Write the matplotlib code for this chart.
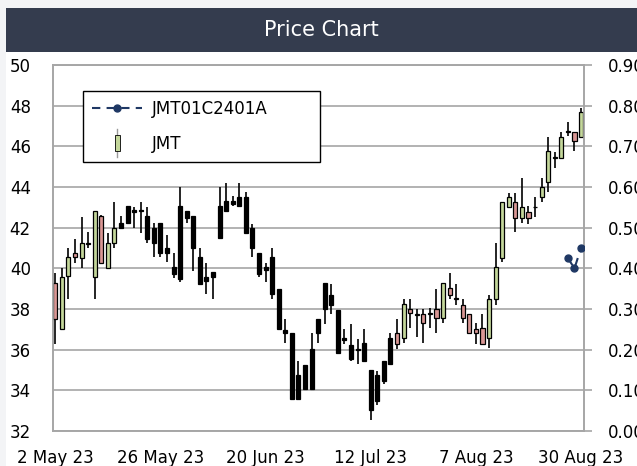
import numpy as np
import matplotlib
matplotlib.use("Agg")
import matplotlib.pyplot as plt
from matplotlib.patches import Rectangle
from matplotlib.lines import Line2D
from matplotlib.legend_handler import HandlerBase

# JMT daily OHLC
opens = [39.3, 37.0, 39.6, 40.75, 40.5, 41.2, 39.55, 42.55, 40.0, 41.25,
         42.0, 42.25, 42.85, 42.85, 42.55, 42.0, 42.25, 41.0, 40.05, 39.5,
         42.8, 42.55, 40.55, 39.55, 39.8, 41.5, 42.8, 43.3, 43.05, 43.5,
         42.0, 40.75, 40.05, 40.55, 39.0, 36.95, 36.8, 33.55, 35.25, 34.05,
         37.5, 38.0, 38.7, 37.95, 36.55, 36.25, 36.05, 35.45, 35.0, 33.5,
         34.45, 35.3, 36.8, 36.55, 38.0, 37.75, 37.75, 37.75, 38.0, 37.55,
         39.05, 38.5, 38.2, 37.75, 37.0, 37.05, 36.55, 38.5, 40.5, 43.0,
         43.25, 42.5, 42.75, 43.0, 43.5, 44.25, 45.45, 45.45, 46.7, 46.7,
         46.45]
highs = [39.75, 40.0, 41.0, 41.45, 42.5, 41.8, 42.8, 42.6, 41.75, 43.25,
         42.55, 43.05, 43.0, 43.25, 43.0, 42.25, 42.25, 41.65, 40.75, 44.0,
         42.8, 42.55, 41.0, 40.25, 39.8, 44.0, 44.2, 43.55, 44.2, 43.75,
         42.2, 40.75, 40.25, 41.0, 39.0, 37.5, 36.8, 35.45, 35.25, 36.8,
         37.5, 39.3, 39.25, 37.95, 37.0, 37.25, 36.5, 37.0, 35.0, 34.95,
         35.45, 36.8, 37.5, 38.5, 38.5, 38.0, 38.0, 38.05, 39.0, 39.3,
         39.75, 39.25, 38.5, 37.75, 37.3, 37.75, 38.7, 41.25, 43.25, 43.7,
         43.7, 44.45, 43.05, 43.5, 44.45, 46.45, 45.7, 46.7, 47.2, 46.7,
         47.9]
lows = [36.3, 37.0, 38.5, 40.25, 40.0, 41.0, 38.5, 40.25, 40.0, 41.0,
        41.95, 42.2, 42.0, 41.75, 41.25, 40.55, 40.55, 40.3, 39.5, 39.35,
        42.25, 39.85, 39.25, 38.75, 38.5, 41.5, 42.8, 43.05, 43.05, 41.75,
        40.55, 39.55, 39.35, 38.5, 37.0, 36.35, 33.55, 33.55, 34.05, 34.05,
        36.35, 37.25, 37.75, 35.85, 36.3, 35.45, 35.3, 35.45, 32.55, 33.3,
        34.3, 35.3, 36.05, 36.35, 37.05, 36.6, 36.35, 37.05, 36.8, 37.3,
        38.5, 38.2, 37.3, 36.8, 36.3, 36.3, 36.1, 38.2, 40.3, 43.0,
        41.8, 42.25, 42.2, 42.5, 43.25, 43.75, 44.95, 45.45, 46.5, 45.75,
        46.45]
closes = [37.5, 39.55, 40.55, 40.55, 41.25, 41.2, 42.8, 40.25, 41.25, 42.0,
          42.25, 43.05, 42.75, 42.8, 41.45, 41.25, 40.75, 40.75, 39.7, 43.05,
          42.5, 41.0, 39.25, 39.4, 39.55, 43.05, 43.3, 43.15, 43.5, 41.75,
          41.0, 39.7, 39.9, 38.75, 37.0, 36.8, 33.55, 34.75, 34.05, 36.05,
          36.8, 39.3, 38.2, 35.85, 36.5, 35.55, 36.0, 36.35, 33.05, 34.75,
          35.45, 36.55, 36.3, 38.25, 37.8, 37.7, 37.3, 37.75, 37.55, 39.3,
          38.7, 38.5, 37.55, 36.8, 36.8, 36.3, 38.5, 40.05, 43.25, 43.5,
          42.5, 43.0, 42.5, 43.0, 44.0, 45.75, 45.45, 46.45, 46.7, 46.25,
          47.7]

# warrant JMT01C2401A (right axis), only the last three sessions
warrant = [np.nan] * 78 + [0.425, 0.40, 0.45]

tick_labels = ["2 May 23", "26 May 23", "20 Jun 23", "12 Jul 23", "7 Aug 23", "30 Aug 23"]

up_color = "#c4d79b"
down_color = "#d99694"
navy = "#1f3864"
grid_color = "#a6a6a6"
black_from, black_to = 10, 51   # section drawn with solid black bodies

plt.rcParams["font.family"] = ["DejaVu Sans"]

fig = plt.figure(figsize=(6.37, 4.66), dpi=100)
fig.patch.set_facecolor("#f3f4f6")
fig.add_artist(Rectangle((6 / 637, 0), 1, 414 / 466, transform=fig.transFigure,
                         facecolor="white", edgecolor="none", zorder=0))
fig.add_artist(Rectangle((6 / 637, 414 / 466), 1, 44 / 466, transform=fig.transFigure,
                         facecolor="#343c4e", edgecolor="none", zorder=0))
fig.text(0.5047, 0.9356, "Price Chart", color="white", fontsize=15,
         ha="center", va="center")

ax = fig.add_axes([53 / 637, 35 / 466, 531 / 637, 366 / 466])
ax.set_facecolor("white")

x = np.arange(len(opens))
o = np.array(opens)
c = np.array(closes)
bottoms = np.minimum(o, c)
heights = np.maximum(np.abs(c - o), 0.03)
colors = []
for i in x:
    if black_from <= i <= black_to:
        colors.append("black")
    elif c[i] < o[i]:
        colors.append(down_color)
    else:
        colors.append(up_color)

ax.vlines(x, lows, highs, color="black", linewidth=1.2, zorder=2)
ax.bar(x, heights, bottom=bottoms, width=0.62, color=colors,
       edgecolor="black", linewidth=0.9, zorder=3)

ax.set_xlim(-0.35, 80.45)
ax.set_ylim(32, 50)
ax.set_yticks(np.arange(32, 51, 2))
ax.yaxis.grid(True, color=grid_color, linewidth=1.2)
ax.set_axisbelow(True)
ax.set_xticks(np.arange(0, 81, 16))
ax.set_xticklabels(tick_labels)
ax.tick_params(axis="both", length=0, labelsize=12)
ax.tick_params(axis="y", pad=16)
ax.tick_params(axis="x", pad=13)
for s in ax.spines.values():
    s.set_color(grid_color)
    s.set_linewidth(1.2)

ax2 = ax.twinx()
ax2.plot(x, warrant, color=navy, linestyle="--", dashes=(4, 3), marker="o",
         markersize=5, linewidth=1.5, zorder=4)
ax2.set_ylim(0, 0.9)
ax2.set_yticks(np.arange(0, 0.91, 0.1))
ax2.set_yticklabels([f"{v:.2f}" for v in np.arange(0, 0.91, 0.1)])
ax2.tick_params(axis="y", direction="out", length=6, width=1.2, color=grid_color,
                labelsize=12, pad=11)
for s in ax2.spines.values():
    s.set_color(grid_color)
    s.set_linewidth(1.2)


class CandleHandler(HandlerBase):
    def create_artists(self, legend, orig_handle, xdescent, ydescent,
                       width, height, fontsize, trans):
        cx = width / 2 - xdescent
        cy = height / 2 - ydescent
        wick = Line2D([cx, cx], [cy - 10, cy + 10], color="#999999",
                      linewidth=1, transform=trans)
        box = Rectangle((cx - 1.8, cy - 6), 3.6, 12, facecolor=up_color,
                        edgecolor="black", linewidth=0.6, transform=trans)
        return [wick, box]


warrant_handle = Line2D([], [], color=navy, linestyle="--", dashes=(4, 3),
                        marker="o", markersize=5, linewidth=1.5)
candle_handle = Rectangle((0, 0), 1, 1)
leg = ax2.legend([warrant_handle, candle_handle], ["JMT01C2401A", "JMT"],
                 handler_map={Rectangle: CandleHandler()},
                 loc="upper left", bbox_to_anchor=(0.0565, 0.727, 0.4463, 0.202),
                 mode="expand", borderaxespad=0, fontsize=12, frameon=True,
                 fancybox=False, edgecolor="black", framealpha=1,
                 handlelength=3.0, handletextpad=0.6, labelspacing=1.0,
                 borderpad=0.55)
leg.get_frame().set_linewidth(1.0)

fig.savefig("out.png", dpi=100, facecolor=fig.get_facecolor())
